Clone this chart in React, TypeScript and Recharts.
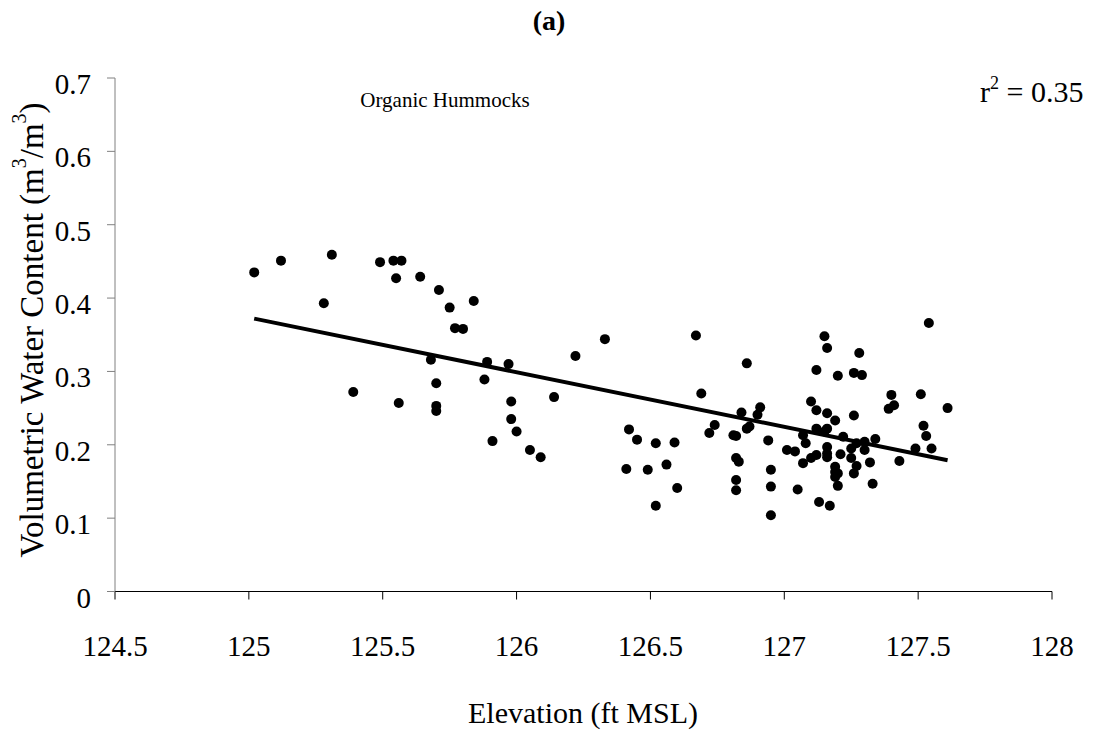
import React from 'react';
import { ScatterChart, Scatter, XAxis, YAxis } from 'recharts';

// elevation (ft MSL) and volumetric water content for each hummock sample
const elevation = [
  125.02, 125.12, 125.31, 125.28, 125.39, 125.49, 125.54, 125.57, 125.55, 125.64,
  125.71, 125.75, 125.84, 125.77, 125.80, 125.56, 125.68, 125.70, 125.70, 125.70,
  125.89, 125.88, 125.97, 125.98, 125.98, 126.00, 125.91, 126.05, 126.09, 126.14,
  126.22, 126.33, 126.67, 126.86, 126.69, 127.15, 127.16, 127.12, 127.20, 126.42,
  126.45, 126.52, 126.59, 126.41, 126.49, 126.56, 126.74, 126.72, 126.81, 126.82,
  126.84, 126.91, 126.90, 126.87, 126.86, 126.94, 126.82, 126.83, 126.95, 126.60,
  126.52, 126.82, 126.82, 126.95, 126.95, 127.05, 127.13, 127.17, 127.01, 127.04,
  127.07, 127.10, 127.12, 127.07, 127.08, 127.12, 127.16, 127.16, 127.16, 127.19,
  127.19, 127.20, 127.20, 127.26, 127.29, 127.40, 127.41, 127.39, 127.51, 127.61,
  127.52, 127.53, 127.55, 127.49, 127.43, 127.34, 127.33, 127.32, 127.26, 127.16,
  127.10, 127.15, 127.22, 127.16, 127.21, 127.25, 127.27, 127.30, 127.30, 127.25,
  127.27, 127.26, 127.19, 127.19, 127.28, 127.54, 127.12,
];
const waterContent = [
  0.435, 0.451, 0.459, 0.393, 0.272, 0.449, 0.451, 0.451, 0.427, 0.429,
  0.411, 0.387, 0.396, 0.359, 0.358, 0.257, 0.316, 0.284, 0.253, 0.246,
  0.313, 0.289, 0.310, 0.259, 0.235, 0.218, 0.205, 0.193, 0.183, 0.265,
  0.321, 0.344, 0.349, 0.311, 0.270, 0.348, 0.332, 0.302, 0.294, 0.221,
  0.207, 0.202, 0.203, 0.167, 0.166, 0.173, 0.227, 0.216, 0.213, 0.212,
  0.244, 0.251, 0.241, 0.225, 0.222, 0.206, 0.182, 0.177, 0.166, 0.141,
  0.117, 0.152, 0.138, 0.143, 0.104, 0.139, 0.122, 0.117, 0.193, 0.191,
  0.175, 0.182, 0.186, 0.213, 0.202, 0.222, 0.222, 0.197, 0.188, 0.233,
  0.170, 0.161, 0.144, 0.298, 0.295, 0.268, 0.254, 0.249, 0.269, 0.250,
  0.226, 0.212, 0.195, 0.195, 0.178, 0.208, 0.147, 0.176, 0.240, 0.243,
  0.259, 0.218, 0.211, 0.183, 0.187, 0.195, 0.202, 0.204, 0.193, 0.182,
  0.171, 0.161, 0.163, 0.156, 0.325, 0.366, 0.247,
];

// linear fit, end points
const trendX = [125.02, 127.61];
const trendY = [0.372, 0.179];

const xTicks = [124.5, 125, 125.5, 126, 126.5, 127, 127.5, 128];
const yTicks = [0, 0.1, 0.2, 0.3, 0.4, 0.5, 0.6, 0.7];

const points = elevation.map((x, i) => ({ x, y: waterContent[i] }));
const trend = trendX.map((x, i) => ({ x, y: trendY[i] }));

const FONT = "'Liberation Serif', 'Times New Roman', serif";

const Dot = (props: any) => <circle cx={props.cx} cy={props.cy} r={5} fill="#000" />;
const NoDot = () => <g />;

const XTick = (props: any) => (
  <text x={props.x} y={props.y + 46} textAnchor="middle" dominantBaseline="central" fontSize={29} fill="#000">
    {props.payload.value}
  </text>
);

const YTick = (props: any) => (
  <text x={props.x - 16} y={props.y + 6} textAnchor="end" dominantBaseline="central" fontSize={29} fill="#000">
    {props.payload.value}
  </text>
);

export default function App() {
  return (
    <div style={{ position: 'absolute', left: 0, top: 0, width: 1094, height: 732, background: '#fff' }}>
      <style>{`svg text { font-family: ${FONT} !important; }`}</style>
      <ScatterChart width={1094} height={732} margin={{ top: 78, right: 42, bottom: 0, left: 0 }}>
        <XAxis
          type="number"
          dataKey="x"
          domain={[124.5, 128]}
          ticks={xTicks}
          height={140.5}
          stroke="#000"
          tickSize={8}
          tickMargin={0}
          tick={<XTick />}
        />
        <YAxis
          type="number"
          dataKey="y"
          domain={[0, 0.7]}
          ticks={yTicks}
          width={115}
          stroke="#808080"
          tickSize={8}
          tickMargin={0}
          tick={<YTick />}
        />
        <Scatter data={points} shape={<Dot />} isAnimationActive={false} />
        <Scatter
          data={trend}
          line={{ stroke: '#000', strokeWidth: 4 }}
          shape={<NoDot />}
          isAnimationActive={false}
        />
      </ScatterChart>
      <svg width={1094} height={732} style={{ position: 'absolute', left: 0, top: 0, pointerEvents: 'none' }}>
        <text x={549} y={20} textAnchor="middle" dominantBaseline="central" fontSize={28} fontWeight="bold" fill="#000">
          (a)
        </text>
        <text x={445} y={100} textAnchor="middle" dominantBaseline="central" fontSize={21} fill="#000">
          Organic Hummocks
        </text>
        <text x={980} y={102} fontSize={30} fill="#000">
          r<tspan fontSize={18} dy={-13}>2</tspan>
          <tspan dy={13}> = 0.35</tspan>
        </text>
        <text x={583} y={712} textAnchor="middle" dominantBaseline="central" fontSize={30} fill="#000">
          Elevation (ft MSL)
        </text>
        <text
          x={32}
          y={330}
          transform="rotate(-90 32 330)"
          textAnchor="middle"
          dominantBaseline="central"
          fontSize={33}
          fill="#000"
        >
          Volumetric Water Content (m
          <tspan fontSize={20} dy={-13}>3</tspan>
          <tspan dy={13}>/m</tspan>
          <tspan fontSize={20} dy={-13}>3</tspan>
          <tspan dy={13}>)</tspan>
        </text>
      </svg>
    </div>
  );
}
